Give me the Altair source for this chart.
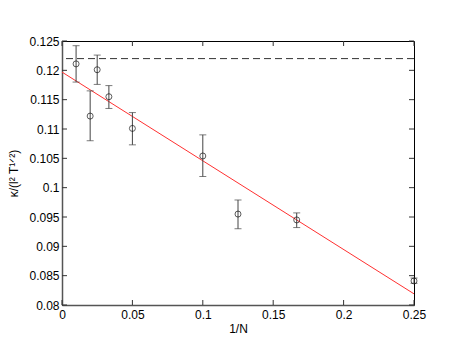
import altair as alt
import pandas as pd

# Data
inv_n = [0.01, 0.02, 0.025, 0.0333, 0.05, 0.1, 0.125, 0.1667, 0.25]
kappa = [0.1211, 0.1122, 0.1201, 0.1155, 0.1101, 0.1054, 0.0955, 0.0945, 0.0841]
err_lo = [0.1180, 0.1080, 0.1176, 0.1135, 0.1073, 0.1019, 0.0930, 0.0932, 0.0837]
err_hi = [0.1242, 0.1165, 0.1226, 0.1174, 0.1128, 0.1090, 0.0979, 0.0957, 0.0846]

fit_x = [0.0, 0.25]
fit_y = [0.1197, 0.0819]

limit_value = [0.1220]

x_ticks = [0, 0.05, 0.1, 0.15, 0.2, 0.25]
y_ticks = [0.08, 0.085, 0.09, 0.095, 0.1, 0.105, 0.11, 0.115, 0.12, 0.125]

W, H = 352, 264
FONT = "Liberation Sans"

pts = pd.DataFrame({"x": inv_n, "y": kappa, "lo": err_lo, "hi": err_hi})
fit = pd.DataFrame({"x": fit_x, "y": fit_y})
lim = pd.DataFrame({"y": limit_value})
xt = pd.DataFrame({"x": x_ticks})
yt = pd.DataFrame({"y": y_ticks})

xs = alt.Scale(domain=[0, 0.25], nice=False, zero=False)
ys = alt.Scale(domain=[0.08, 0.125], nice=False, zero=False)

xaxis = alt.Axis(values=x_ticks, format="~g", title="1/N", titlePadding=3, labelPadding=4)
yaxis = alt.Axis(values=y_ticks, format="~g", title="κ/(l² T¹ᐟ²)", titlePadding=8, labelPadding=3)

X = lambda f: alt.X(f, scale=xs, axis=xaxis)
Y = lambda f: alt.Y(f, scale=ys, axis=yaxis)

base_fit = alt.Chart(fit).mark_line(color="#ff3030", strokeWidth=1, clip=True).encode(
    x=X("x:Q"), y=Y("y:Q"),
)

dashed = alt.Chart(lim).mark_rule(color="#333333", strokeDash=[7, 4], strokeWidth=1).encode(
    y=Y("y:Q")
)

bars = alt.Chart(pts).mark_rule(color="#444444", strokeWidth=1).encode(
    x=X("x:Q"), y=Y("lo:Q"), y2="hi:Q"
)
cap_lo = alt.Chart(pts).mark_tick(color="#444444", orient="horizontal", size=7, thickness=1).encode(
    x=X("x:Q"), y=Y("lo:Q")
)
cap_hi = alt.Chart(pts).mark_tick(color="#444444", orient="horizontal", size=7, thickness=1).encode(
    x=X("x:Q"), y=Y("hi:Q")
)
markers = alt.Chart(pts).mark_point(shape="circle", filled=False, color="black",
                                    size=36, strokeWidth=0.9).encode(
    x=X("x:Q"), y=Y("y:Q")
)

# inward ticks on all four sides
tk = dict(color="#333333", strokeWidth=1)
yt_left = alt.Chart(yt).mark_rule(**tk).encode(y=Y("y:Q"), x=alt.value(0), x2=alt.value(5))
yt_right = alt.Chart(yt).mark_rule(**tk).encode(y=Y("y:Q"), x=alt.value(W - 5), x2=alt.value(W))
xt_bot = alt.Chart(xt).mark_rule(**tk).encode(x=X("x:Q"), y=alt.value(H - 5), y2=alt.value(H))
xt_top = alt.Chart(xt).mark_rule(**tk).encode(x=X("x:Q"), y=alt.value(0), y2=alt.value(5))

chart = alt.layer(base_fit, dashed, bars, cap_lo, cap_hi, markers,
                  yt_left, yt_right, xt_bot, xt_top).properties(
    width=W, height=H,
    background="white",
    autosize=alt.AutoSizeParams(type="none"),
    padding={"left": 54, "top": 33, "right": 35, "bottom": 30},
).configure_view(stroke="black", strokeWidth=1).configure_axis(
    ticks=False, grid=False, labelFont=FONT, labelFontSize=12, labelColor="black",
    domainColor="#555555", domainWidth=1.5, titleFont=FONT, titleFontSize=12,
    titleFontWeight="normal", titleColor="black", labelFlush=False, labelOverlap=False,
)

chart.save("out.html", embed_options={"renderer": "svg", "actions": False})
